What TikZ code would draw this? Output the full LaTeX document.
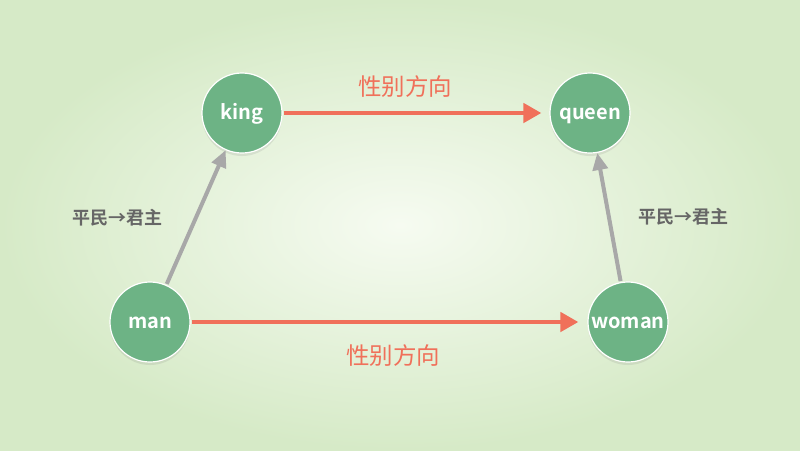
\documentclass[tikz,border=0pt]{standalone}
\usepackage{fontspec}
\setmainfont{Noto Sans CJK SC}[BoldFont={* Bold}]
\usetikzlibrary{arrows.meta,shadows,calc}
\definecolor{nodegreen}{HTML}{6DB385}
\definecolor{arrred}{HTML}{F0705A}
\definecolor{arrgray}{HTML}{A8A8A8}
\definecolor{txtgray}{HTML}{666666}
\definecolor{bgin}{HTML}{F6FBF1}
\definecolor{bgout}{HTML}{D6EAC7}
\tikzset{
  word/.style={circle, minimum size=80pt, inner sep=0pt, fill=nodegreen, draw=white, line width=1.2pt,
    text=white, font=\bfseries\fontsize{20}{20}\selectfont, text height=12pt, text depth=0pt,
    drop shadow={opacity=0.16, shadow xshift=0pt, shadow yshift=-3pt}},
  redarr/.style={draw=arrred, line width=4.5pt, -{Triangle[length=18pt,width=19pt]}, shorten <=1pt},
  grayarr/.style={draw=arrgray, line width=4pt, -{Triangle[length=17pt,width=15pt]}, shorten <=1pt},
  redlab/.style={text=arrred, font=\fontsize{23.5}{24}\selectfont},
  graylab/.style={text=txtgray, font=\bfseries\fontsize{18}{19}\selectfont},
}
\begin{document}
\begin{tikzpicture}[x=1pt,y=-1pt]
\shade[inner color=bgin, outer color=bgout] (0,0) rectangle (800,450);
\useasboundingbox (0,0) rectangle (800,450);
\node[word] (king) at (242,113) {king};
\node[word] (queen) at (590,113) {queen};
\node[word] (man) at (150,322) {man};
\node[word] (woman) at (628,322) {woman};
\draw[redarr, shorten >=8pt] (king) -- (queen);
\draw[redarr, shorten >=9pt] (man) -- (woman);
\draw[grayarr] (man) -- (king);
\draw[grayarr] (woman) -- (queen);
\node[redlab] (l1) at (405,87) {性别方向};
\node[redlab] (l2) at (393,356) {性别方向};
\node[graylab] (l3) at (117,218) {平民→君主};
\node[graylab] (l4) at (683,217) {平民→君主};
\end{tikzpicture}
\end{document}
